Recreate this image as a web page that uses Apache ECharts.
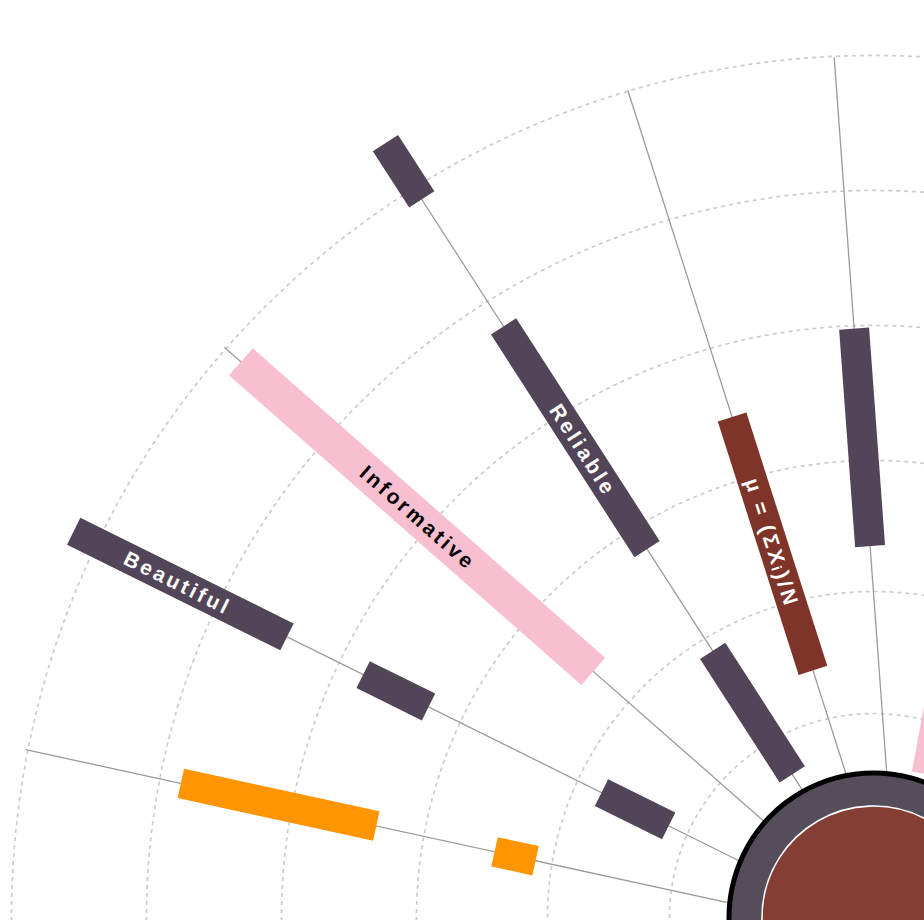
<!DOCTYPE html>
<html>
<head>
<meta charset="utf-8">
<script src="https://cdn.jsdelivr.net/npm/echarts@6/dist/echarts.min.js"></script>
<style>
  html, body { margin: 0; padding: 0; background: #ffffff; }
  #main { width: 924px; height: 920px; }
  #main text { letter-spacing: 3px; }
</style>
</head>
<body>
<div id="main"></div>
<script>
// ---------------- data ----------------
// radii of the dotted reference circles (value units along the radius axis)
const gridRadii = [204, 326, 457, 592, 727, 862];
// angle of every spoke (degrees, counter-clockwise from east)
const spokeAngles = [79.5, 94.2, 107.7, 122.8, 138.7, 153.65, 167.7];
// where each visible spoke line ends (radius value)
const spokeEnds = [null, 885, 892, 900, 898, 890, 894];
// bars: [spoke index, start radius, end radius, label, label radius]
const darkBars = [
  [1, 395, 613, '', 0],
  [3, 881, 948, '', 0],
  [3, 465, 730, 'Reliable', 583],
  [3, 197, 344, '', 0],
  [5, 683, 921, 'Beautiful', 805],
  [5, 525, 598, '', 0],
  [5, 257, 332, '', 0]
];
const brownBars = [
  [2, 283, 549, 'μ = (ΣXᵢ)/N', 417]
];
const pinkBars = [
  [0, 168, 560, '', 0],
  [4, 407, 876, 'Informative', 640]
];
const orangeBars = [
  [6, 535, 735, '', 0],
  [6, 372, 414, '', 0]
];
// hub: outer edge, inner edge of the ring (radius values)
const hubOuter = 147, hubRingInner = 142, hubCore = 111.5;

// ---------------- rendering ----------------
const chart = echarts.init(document.getElementById('main'), null, { renderer: 'svg' });

function pxRadius(api, v) {
  const c = api.coord([0, 0]);
  const p = api.coord([v, 0]);
  return Math.hypot(p[0] - c[0], p[1] - c[1]);
}

function barRender(list, width, textColor) {
  return function (params, api) {
    const r0 = api.value(0), ang = api.value(1), r1 = api.value(2);
    const pIn = api.coord([r0, ang]);
    const pOut = api.coord([r1, ang]);
    const dx = pIn[0] - pOut[0], dy = pIn[1] - pOut[1];
    const len = Math.hypot(dx, dy);
    const ux = dx / len, uy = dy / len;
    const nx = -uy * width / 2, ny = ux * width / 2;
    const children = [{
      type: 'polygon',
      shape: { points: [
        [pOut[0] + nx, pOut[1] + ny],
        [pIn[0] + nx, pIn[1] + ny],
        [pIn[0] - nx, pIn[1] - ny],
        [pOut[0] - nx, pOut[1] - ny]
      ] },
      style: { fill: api.visual('color') }
    }];
    const item = list[params.dataIndex];
    const label = item[3];
    if (label) {
      const pl = api.coord([item[4], ang]);
      children.push({
        type: 'text',
        x: pl[0],
        y: pl[1],
        rotation: -Math.atan2(uy, ux),
        style: {
          text: label,
          fill: textColor,
          fontSize: 21,
          fontWeight: 'bold',
          fontFamily: 'Liberation Sans',
          align: 'center',
          verticalAlign: 'middle'
        }
      });
    }
    return { type: 'group', children: children };
  };
}

function barSeries(list, color, width, textColor, z) {
  return {
    type: 'custom',
    coordinateSystem: 'polar',
    polarIndex: 1,
    z: z,
    silent: true,
    itemStyle: { color: color },
    data: list.map(b => [b[1], spokeAngles[b[0]], b[2]]),
    renderItem: barRender(list, width, textColor)
  };
}

const hiddenAngle = i => ({
  polarIndex: i, type: 'value', min: 0, max: 360, startAngle: 0, clockwise: false,
  show: false, axisLine: { show: false }, splitLine: { show: false }, axisTick: { show: false }, axisLabel: { show: false }
});
const hiddenRadius = i => ({
  polarIndex: i, type: 'value', min: 0, max: 1000,
  show: false, axisLine: { show: false }, splitLine: { show: false }, axisTick: { show: false }, axisLabel: { show: false }
});

const spokeData = spokeAngles
  .map((a, i) => spokeEnds[i] == null ? null : [140, a, spokeEnds[i]])
  .filter(d => d);

chart.setOption({
  animation: false,
  backgroundColor: '#ffffff',
  polar: [
    { center: [873.5, 917.5], radius: 1000 },
    { center: [899, 940], radius: 1000 }
  ],
  angleAxis: [hiddenAngle(0), hiddenAngle(1)],
  radiusAxis: [hiddenRadius(0), hiddenRadius(1)],
  series: [
    {
      // dotted reference circles
      type: 'custom',
      coordinateSystem: 'polar',
      polarIndex: 0,
      z: 1,
      silent: true,
      data: gridRadii.map(v => [v, 0]),
      renderItem: function (params, api) {
        const c = api.coord([0, 0]);
        return {
          type: 'circle',
          shape: { cx: c[0], cy: c[1], r: pxRadius(api, api.value(0)) },
          style: { fill: 'none', stroke: '#cccccc', lineWidth: 1.7, lineDash: [4, 4] }
        };
      }
    },
    {
      // spoke lines
      type: 'custom',
      coordinateSystem: 'polar',
      polarIndex: 1,
      z: 2,
      silent: true,
      data: spokeData,
      renderItem: function (params, api) {
        const a = api.coord([api.value(0), api.value(1)]);
        const b = api.coord([api.value(2), api.value(1)]);
        return {
          type: 'line',
          shape: { x1: a[0], y1: a[1], x2: b[0], y2: b[1] },
          style: { stroke: '#9b9b9b', lineWidth: 1.3 }
        };
      }
    },
    barSeries(darkBars, '#524558', 30, '#ffffff', 3),
    barSeries(brownBars, '#7e3428', 30, '#ffffff', 3),
    barSeries(pinkBars, '#f8bfd0', 36, '#000000', 3),
    barSeries(orangeBars, '#ff9500', 30, '#ffffff', 3),
    {
      // central hub
      type: 'custom',
      coordinateSystem: 'polar',
      polarIndex: 0,
      z: 5,
      silent: true,
      data: [[0, 0]],
      renderItem: function (params, api) {
        const c = api.coord([0, 0]);
        return {
          type: 'group',
          children: [
            { type: 'circle', shape: { cx: c[0], cy: c[1], r: pxRadius(api, hubOuter) }, style: { fill: '#000000' } },
            { type: 'circle', shape: { cx: c[0], cy: c[1], r: pxRadius(api, hubRingInner) }, style: { fill: '#564d5b' } },
            { type: 'circle', shape: { cx: c[0], cy: c[1], r: pxRadius(api, hubCore) }, style: { fill: '#853e33', stroke: '#ffffff', lineWidth: 1.6 } }
          ]
        };
      }
    }
  ]
});
</script>
</body>
</html>
